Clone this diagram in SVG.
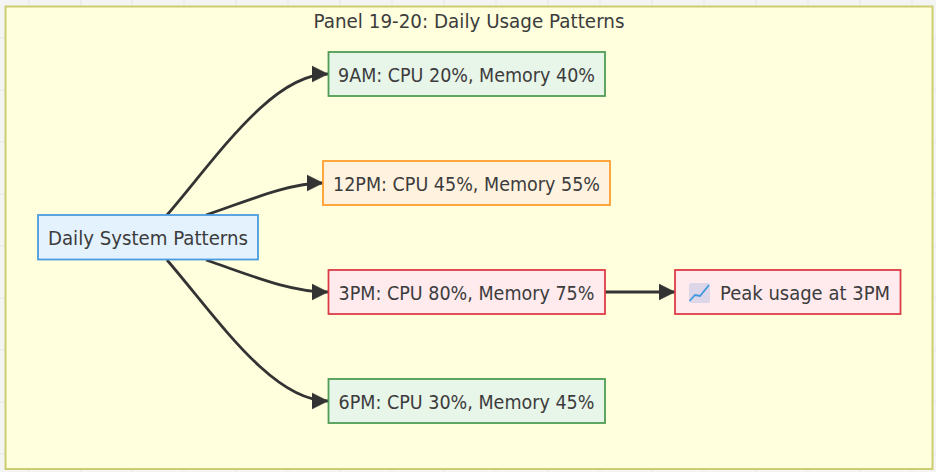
<svg xmlns="http://www.w3.org/2000/svg" width="936" height="472" viewBox="0 0 936 472">
<style>
.n{stroke-width:1.8}
.t{font-family:"DejaVu Sans",Verdana,sans-serif;font-size:19.5px;fill:#3c3c3c;text-anchor:middle}
.e{fill:none;stroke:#333;stroke-width:2.8}
.g{stroke:#e6e6e6;stroke-width:1}
</style>
<defs>
<marker id="a" markerUnits="userSpaceOnUse" markerWidth="17" markerHeight="18" refX="16.500" refY="9" orient="auto"><path d="M0.500,1L16.500,9L0.500,17Z" fill="#333" stroke="#333" stroke-width="0.500"/></marker>
</defs>
<rect width="936" height="472" fill="#f4f4f4"/>
<g id="grid"><path class="g" d="M29 0V6M81 0V6M132 0V6M184 0V6M236 0V6M288 0V6M340 0V6M392 0V6M444 0V6M496 0V6M548 0V6M600 0V6M652 0V6M704 0V6M756 0V6M808 0V6M860 0V6M912 0V6M29 470V472M81 470V472M132 470V472M184 470V472M236 470V472M288 470V472M340 470V472M392 470V472M444 470V472M496 470V472M548 470V472M600 470V472M652 470V472M704 470V472M756 470V472M808 470V472M860 470V472M912 470V472M0 38H5M0 90H5M0 142H5M0 194H5M0 246H5M0 298H5M0 350H5M0 402H5M0 454H5M934 38H936M934 90H936M934 142H936M934 194H936M934 246H936M934 298H936M934 350H936M934 402H936M934 454H936"/></g>
<g id="panel"><rect x="5.500" y="6.500" width="927" height="462.500" fill="#ffffde" stroke="#cccc70" stroke-width="2"/><text class="t" x="469" y="27.500" textLength="311" lengthAdjust="spacingAndGlyphs">Panel 19-20: Daily Usage Patterns</text></g>
<g id="connectors">
<path class="e" marker-end="url(#a)" d="M167,215C217,157 272,74 328,74"/>
<path class="e" marker-end="url(#a)" d="M206,215C245,202 288,183 323,183"/>
<path class="e" marker-end="url(#a)" d="M206,260C245,273 288,292 328,292"/>
<path class="e" marker-end="url(#a)" d="M167,260C217,318 272,401 328,401"/>
<path class="e" marker-end="url(#a)" d="M605,292H675"/>
</g>
<g id="root"><rect class="n" x="38" y="215" width="220" height="44.500" fill="#e3f2fd" stroke="#4a9be0"/><text class="t" x="148" y="244.500" textLength="200" lengthAdjust="spacingAndGlyphs">Daily System Patterns</text></g>
<g id="n9am"><rect class="n" x="328.500" y="52" width="276.500" height="44" fill="#e8f5e9" stroke="#4f9d55"/><text class="t" x="466.500" y="81.500" textLength="257" lengthAdjust="spacingAndGlyphs">9AM: CPU 20%, Memory 40%</text></g>
<g id="n12pm"><rect class="n" x="323" y="161" width="287" height="44" fill="#fff3e0" stroke="#ff9d2e"/><text class="t" x="466.500" y="190.500" textLength="267" lengthAdjust="spacingAndGlyphs">12PM: CPU 45%, Memory 55%</text></g>
<g id="n3pm"><rect class="n" x="328.500" y="270" width="276.500" height="44" fill="#ffebee" stroke="#dc3c46"/><text class="t" x="466.500" y="299.500" textLength="256" lengthAdjust="spacingAndGlyphs">3PM: CPU 80%, Memory 75%</text></g>
<g id="n6pm"><rect class="n" x="328.500" y="379" width="276.500" height="44" fill="#e8f5e9" stroke="#4f9d55"/><text class="t" x="466.500" y="408.500" textLength="256" lengthAdjust="spacingAndGlyphs">6PM: CPU 30%, Memory 45%</text></g>
<g id="peak"><rect class="n" x="675" y="270" width="225.500" height="44" fill="#ffebee" stroke="#dc3c46"/>
<rect x="689" y="283" width="21" height="20" rx="2.500" fill="#ddd6e8"/><path d="M689.500,301L695,295L700,296L709,285" fill="none" stroke="#3f9ae0" stroke-width="1.800"/>
<text class="t" x="805" y="299.500" textLength="170" lengthAdjust="spacingAndGlyphs">Peak usage at 3PM</text></g>
</svg>
